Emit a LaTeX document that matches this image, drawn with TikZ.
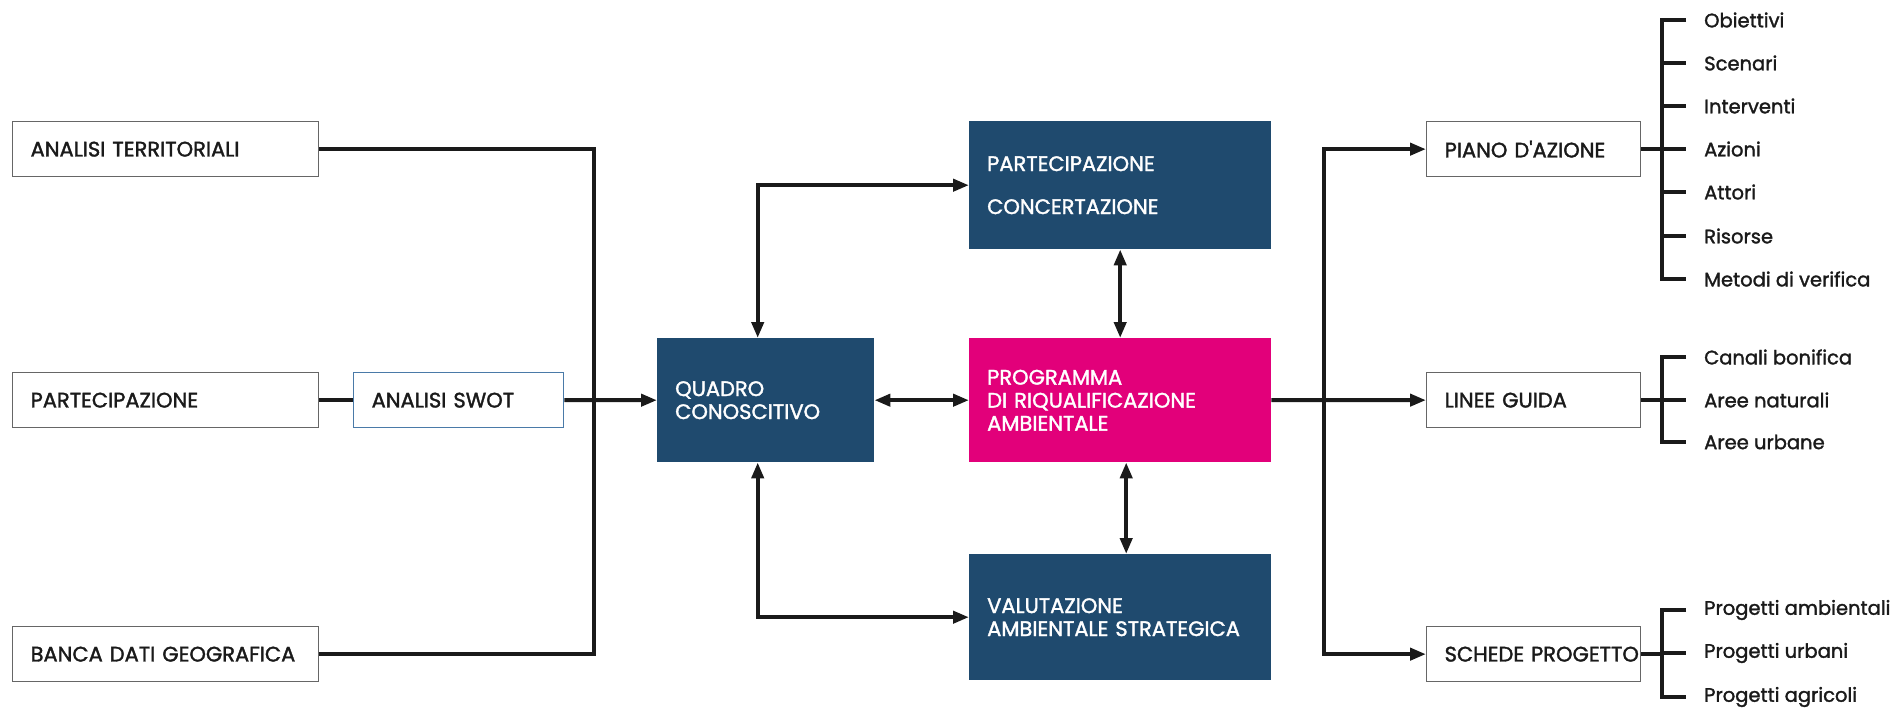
\documentclass[tikz,border=0pt]{standalone}
\usepackage{fontspec}
\setmainfont{Poppins}
\newfontfamily\medfont{Poppins}[FakeBold=1.6]
\usetikzlibrary{arrows.meta,calc}
\definecolor{dblue}{HTML}{1F4A6E}
\definecolor{magen}{HTML}{E2007A}
\definecolor{ink}{HTML}{1A1A1A}
\definecolor{swotb}{HTML}{4A7AA8}
\tikzset{
 boxfont/.style={font=\medfont\fontsize{21}{23}\selectfont},
 itemfont/.style={font=\medfont\fontsize{19.5}{22}\selectfont},
 wbox/.style={draw=black!60, line width=1.3pt, fill=white, anchor=north west, inner xsep=18pt, inner ysep=0pt, align=left, boxfont, text=ink},
 dbox/.style={fill=dblue, anchor=north west, inner xsep=18pt, inner ysep=0pt, align=left, boxfont, text=white},
 conn/.style={line width=4pt, draw=ink},
 arr/.style={conn, -{Triangle[length=16pt,width=12pt]}},
 darr/.style={conn, {Triangle[length=16pt,width=12pt]}-{Triangle[length=16pt,width=12pt]}},
 item/.style={anchor=west, inner xsep=18pt, inner ysep=0pt, itemfont, text=ink}
}
\begin{document}
\begin{tikzpicture}[x=1pt,y=-1pt]
\useasboundingbox (0,0) rectangle (1893,707);
% left column
\node[wbox, text width=270pt, minimum height=55pt] (at) at (12,121) {\mbox{ANALISI TERRITORIALI}};
\node[wbox, text width=270pt, minimum height=55pt] (pa) at (12,372) {\mbox{PARTECIPAZIONE}};
\node[wbox, text width=270pt, minimum height=55pt] (bd) at (12,626) {\mbox{BANCA DATI GEOGRAFICA}};
\node[wbox, draw=swotb, text width=174pt, minimum height=55pt] (sw) at (353,372) {\mbox{ANALISI SWOT}};
% centre
\node[dbox, text width=181pt, minimum height=124pt] (qc) at (657,338) {QUADRO\\CONOSCITIVO};
\node[dbox, text width=266pt, minimum height=128pt] (cc) at (969,121) {PARTECIPAZIONE\\[20pt]CONCERTAZIONE};
\node[dbox, fill=magen, text width=266pt, minimum height=124pt] (pr) at (969,338) {PROGRAMMA\\DI RIQUALIFICAZIONE\\AMBIENTALE};
\node[dbox, text width=266pt, minimum height=126pt] (va) at (969,554) {VALUTAZIONE\\\mbox{AMBIENTALE STRATEGICA}};
% right column
\node[wbox, text width=178pt, minimum height=55pt] (pi) at (1426,121) {\mbox{PIANO D'AZIONE}};
\node[wbox, text width=178pt, minimum height=55pt] (lg) at (1426,372) {\mbox{LINEE GUIDA}};
\node[wbox, text width=178pt, minimum height=55pt] (sp) at (1426,626) {\mbox{SCHEDE PROGETTO}};
% items
\node[item] (o1) at (1686,20) {Obiettivi};
\node[item] (o2) at (1686,63) {Scenari};
\node[item] (o3) at (1686,106) {Interventi};
\node[item] (o4) at (1686,149) {Azioni};
\node[item] (o5) at (1686,192) {Attori};
\node[item] (o6) at (1686,236) {Risorse};
\node[item] (o7) at (1686,279) {Metodi di verifica};
\node[item] (l1) at (1686,357) {Canali bonifica};
\node[item] (l2) at (1686,400) {Aree naturali};
\node[item] (l3) at (1686,442) {Aree urbane};
\node[item] (s1) at (1686,610) {Progetti ambientali};
\node[item] (s2) at (1686,653) {Progetti urbani};
\node[item] (s3) at (1686,697) {Progetti agricoli};
\coordinate (bx) at (1662,0);
\coordinate (lb) at (594,400);
\coordinate (rb) at (1324,400);
% left connectors
\draw[conn] (at.east) -| (lb);
\draw[conn] (bd.east) -| (lb);
\draw[conn] (pa.east) -- (sw.west);
\draw[arr] (sw.east) -- (qc.west);
% centre connectors
\draw[darr] (qc.east) -- (pr.west);
\draw[darr] (cc.south) -- (pr.north);
\draw[darr] ([xshift=6pt]pr.south) -- ([xshift=6pt]va.north);
\draw[darr] ([xshift=-8pt]qc.north) |- (cc.west);
\draw[darr] ([xshift=-8pt]qc.south) |- (va.west);
% right connectors
\draw[conn] (pr.east) -- (rb);
\draw[arr] (rb) -- (lg.west);
\draw[arr] (rb) |- (pi.west);
\draw[arr] (rb) |- (sp.west);
% brackets
\draw[conn] (pi.east) -- (pi.east -| bx);
\draw[conn] (o1.west) -| (o7.west -| bx) -- (o7.west);
\foreach \n in {o2,o3,o4,o5,o6} \draw[conn] (\n.west -| bx) -- (\n.west);
\draw[conn] (lg.east) -- (lg.east -| bx);
\draw[conn] (l1.west) -| (l3.west -| bx) -- (l3.west);
\draw[conn] (l2.west -| bx) -- (l2.west);
\draw[conn] (sp.east) -- (sp.east -| bx);
\draw[conn] (s1.west) -| (s3.west -| bx) -- (s3.west);
\draw[conn] (s2.west -| bx) -- (s2.west);
\end{tikzpicture}
\end{document}
